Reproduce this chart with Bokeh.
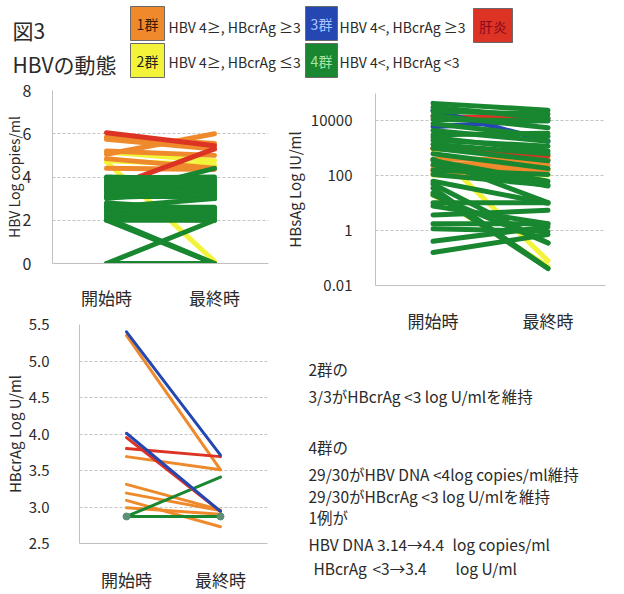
from bokeh.plotting import figure
from bokeh.layouts import column, row
from bokeh.models import Range1d, FactorRange, FixedTicker, CustomJSTickFormatter, NumeralTickFormatter
from bokeh.core.properties import value
from bokeh.embed import file_html
from bokeh.resources import INLINE

FONT = "Noto Sans CJK JP"
times = ["開始時", "最終時"]

# ---------------- data ----------------
# Chart 1: HBV DNA (log copies/ml), start -> end
hbv_g1_start = [5.85, 5.75, 5.05, 4.85, 4.4, 5.2]
hbv_g1_end = [5.55, 5.3, 6.0, 4.4, 4.35, 5.0]
hbv_g2_start = [5.15, 4.75, 4.7]
hbv_g2_end = [4.75, 4.55, 0.1]
hbv_g3_start = [3.5, 3.6]
hbv_g3_end = [3.3, 3.7]
hbv_hep_start = [6.05, 3.45]
hbv_hep_end = [5.45, 5.3]
hbv_g4_start = [4.0, 3.95, 3.9, 3.8, 3.7, 3.6, 3.5, 3.4, 3.3, 3.2, 3.14, 3.1, 3.0, 3.05, 2.8,
                2.7, 2.6, 2.5, 2.45, 2.4, 2.3, 2.2, 2.1, 2.05, 2.0, 2.0, 2.1, 0.0, 0.0, 2.6]
hbv_g4_end = [3.9, 4.0, 3.6, 3.8, 3.5, 3.3, 3.7, 3.2, 3.4, 3.0, 4.4, 3.1, 3.5, 3.2, 2.5,
              2.4, 2.6, 2.3, 2.2, 2.5, 2.1, 2.4, 2.0, 2.2, 0.0, 2.0, 0.0, 2.0, 0.0, 3.0]

# Chart 2: HBsAg (log10 IU/ml), start -> end
hbs_g1_start = [2.37, 2.25, 3.0, 2.6, 2.1, 2.2]
hbs_g1_end = [2.55, 2.25, 2.73, 2.6, 2.2, 2.4]
hbs_g2_start = [2.97, 1.3, 2.03]
hbs_g2_end = [-1.1, -1.3, 2.03]
hbs_g3_start = [4.39, 3.79]
hbs_g3_end = [3.26, 4.03]
hbs_hep_start = [4.14, 3.0]
hbs_hep_end = [4.1, 2.73]
hbs_g4_start = [4.64, 4.5, 4.35, 4.2, 4.05, 3.9, 3.65, 3.5, 3.3, 3.15, 3.0, 2.8, 2.55, 2.4, 2.2,
                2.05, 1.8, 1.55, 1.38, 1.02, 0.57, 0.25, 0.07, -0.39, -0.8, 1.3, 0.9, 2.6, 3.4, 1.7]
hbs_g4_end = [4.39, 4.1, 4.25, 3.75, 4.0, 3.43, 3.26, 3.55, 3.08, 2.8, 2.55, 2.27, 1.8, 1.63, 2.05,
              1.66, 1.0, -1.38, -1.38, 1.02, 0.74, 0.25, -0.03, 0.14, -0.14, -0.45, 0.25, 1.02, 2.9, -0.45]

# Chart 3: HBcrAg (log U/ml), start -> end
crag_g1_start = [5.35, 3.69, 3.31, 3.19, 3.09, 2.99]
crag_g1_end = [3.51, 3.51, 2.96, 2.95, 2.73, 2.9]
crag_g3_start = [5.4, 4.01]
crag_g3_end = [3.71, 2.94]
crag_hep_start = [3.95, 3.8]
crag_hep_end = [2.94, 3.69]
crag_g4_start = [2.87, 2.87, 2.87, 2.87, 2.87]
crag_g4_end = [3.41, 2.87, 2.87, 2.87, 2.87]

hbv_ticks = [0, 2, 4, 6, 8]
hbs_ticks = [0.01, 1, 100, 10000]
crag_ticks = [2.5, 3.0, 3.5, 4.0, 4.5, 5.0, 5.5]

legend_labels = ["1群", "2群", "3群", "4群", "肝炎"]
legend_texts = ["HBV 4≥, HBcrAg ≥3", "HBV 4≥, HBcrAg ≤3", "HBV 4<, HBcrAg ≥3", "HBV 4<, HBcrAg <3"]

# ---------------- styles ----------------
C1 = "#ee8a2c"
C2 = "#f3f33a"
C3 = "#2447b2"
C4 = "#198630"
CH = "#dd3324"
GRID = "#c4c4c4"
TXT = "#2a2a2a"


def base_chart(width, height, y_range, borders, y_label, y_type="linear", label_standoff=16,
               axis_standoff=2, x_standoff=14, tick_size="16px", label_size="14px"):
    l, r, t, b = borders
    p = figure(width=width, height=height, x_range=FactorRange(*times), y_range=y_range,
               y_axis_type=y_type, output_backend="svg", toolbar_location=None,
               min_border_left=l, min_border_right=r, min_border_top=t, min_border_bottom=b)
    p.outline_line_color = None
    p.xgrid.visible = False
    p.ygrid.grid_line_color = GRID
    p.ygrid.grid_line_dash = "3 2"
    p.yaxis.axis_label = y_label
    p.yaxis.axis_label_text_font = FONT
    p.yaxis.axis_label_text_font_size = label_size
    p.yaxis.axis_label_text_font_style = "normal"
    p.yaxis.axis_label_text_color = TXT
    p.yaxis.axis_label_standoff = axis_standoff
    for ax in (p.xaxis, p.yaxis):
        ax.major_tick_line_color = None
        ax.minor_tick_line_color = None
        ax.axis_line_color = "#c0c0c0"
        ax.major_label_text_font = FONT
        ax.major_label_text_color = TXT
    p.yaxis.major_label_text_font_size = tick_size
    p.yaxis.major_label_standoff = label_standoff
    p.xaxis.major_label_text_font_size = "17px"
    p.xaxis.major_label_standoff = x_standoff
    return p


def seg(p, start, end, color, width, conv=None):
    n = len(start)
    ys = start if conv is None else [conv(v) for v in start]
    ye = end if conv is None else [conv(v) for v in end]
    p.segment(x0=[times[0]] * n, y0=ys, x1=[times[1]] * n, y1=ye,
              line_color=color, line_width=width, line_cap="round")


# Chart 1
c1 = base_chart(280, 234, Range1d(0, 8), (52, 12, 12, 35), "HBV Log copies/ml",
                label_standoff=15, axis_standoff=-4, x_standoff=15, tick_size="16px", label_size="14px")
c1.yaxis.ticker = FixedTicker(ticks=hbv_ticks)
seg(c1, hbv_g2_start, hbv_g2_end, C2, 5)
seg(c1, hbv_g1_start, hbv_g1_end, C1, 5)
seg(c1, hbv_hep_start, hbv_hep_end, CH, 5)
seg(c1, hbv_g3_start, hbv_g3_end, C3, 5)
seg(c1, hbv_g4_start, hbv_g4_end, C4, 5)

# Chart 2
c2 = base_chart(344, 257, Range1d(0.01, 1e5), (82, 19, 15, 44), "HBsAg Log IU/ml", y_type="log",
                label_standoff=17, axis_standoff=3, x_standoff=16, tick_size="15px", label_size="15px")
c2.yaxis.ticker = FixedTicker(ticks=hbs_ticks)
c2.yaxis.formatter = CustomJSTickFormatter(code="return tick >= 1 ? tick.toFixed(0) : String(tick);")
conv = lambda v: 10 ** v
seg(c2, hbs_g2_start, hbs_g2_end, C2, 5, conv)
seg(c2, hbs_g1_start, hbs_g1_end, C1, 5, conv)
seg(c2, hbs_hep_start, hbs_hep_end, CH, 5, conv)
seg(c2, hbs_g3_start, hbs_g3_end, C3, 5, conv)
seg(c2, hbs_g4_start, hbs_g4_end, C4, 5, conv)

# Chart 3
c3 = base_chart(280, 282, Range1d(2.5, 5.5), (68, 13, 12, 38), "HBcrAg Log U/ml",
                label_standoff=24, axis_standoff=1, x_standoff=17, tick_size="15px", label_size="15px")
c3.yaxis.ticker = FixedTicker(ticks=crag_ticks)
c3.yaxis.formatter = NumeralTickFormatter(format="0.0")
seg(c3, crag_g1_start, crag_g1_end, C1, 3)
seg(c3, crag_g4_start, crag_g4_end, C4, 3)
seg(c3, crag_hep_start, crag_hep_end, CH, 3)
seg(c3, crag_g3_start, crag_g3_end, C3, 3)
c3.scatter(x=[times[0], times[1]], y=[crag_g4_start[1], crag_g4_end[1]], size=7, color="#5f8f76")

# Text panel
tf = figure(width=344, height=259, x_range=Range1d(280, 624), y_range=Range1d(594, 335),
            output_backend="svg", toolbar_location=None, min_border=0)
tf.axis.visible = False
tf.grid.visible = False
tf.outline_line_color = None
lines = ["2群の", "3/3がHBcrAg <3 log U/mlを維持", "4群の",
         "29/30がHBV DNA <4log copies/ml維持", "29/30がHBcrAg <3 log U/mlを維持", "1例が",
         "HBV DNA 3.14→4.4", "log copies/ml", "HBcrAg", "<3→3.4", "log U/ml"]
lx = [308, 308, 308, 308, 308, 308, 308, 452, 313, 372, 455]
ly = [368, 395, 446, 473, 495, 516, 543, 543, 567, 567, 567]
tf.text(x=lx, y=ly, text=lines, text_font=value(FONT), text_font_size="15.5px",
        text_color=TXT, text_baseline="middle", text_align="left")

# Header
hd = figure(width=624, height=78, x_range=Range1d(0, 624), y_range=Range1d(78, 0),
            output_backend="svg", toolbar_location=None, min_border=0)
hd.axis.visible = False
hd.grid.visible = False
hd.outline_line_color = None
hd.text(x=[12, 12], y=[29, 63], text=["図3", "HBVの動態"], text_font=value(FONT),
        text_font_size="21px", text_color=TXT, text_baseline="middle")
box_l = [130, 130, 305, 305, 473]
box_r = [164, 164, 337, 337, 512]
box_t = [6, 43, 6, 43, 8]
box_b = [40, 77, 40, 77, 42]
box_c = [C1, C2, C3, C4, CH]
hd.quad(left=box_l, right=box_r, top=box_t, bottom=box_b, fill_color=box_c,
        line_color="#6a6a6a", line_width=1)
hd.text(x=[(a + b) / 2 for a, b in zip(box_l, box_r)],
        y=[(a + b) / 2 for a, b in zip(box_t, box_b)],
        text=[legend_labels[0], legend_labels[1], legend_labels[2], legend_labels[3], legend_labels[4]],
        text_color=["#3a1c05", "#222222", "#a9c4ff", "#a6e3a6", "#8c0a1e"],
        text_font=value(FONT), text_font_size="14px", text_align="center", text_baseline="middle")
hd.text(x=[168, 168, 339, 339], y=[26, 61, 26, 61],
        text=[legend_texts[0], legend_texts[1], legend_texts[2], legend_texts[3]],
        text_font=value(FONT), text_font_size="14px", text_color=TXT, text_baseline="middle")

layout = column(hd, row(column(row(c1), row(c3)), column(row(c2), row(tf))))
open("out.html", "w").write(file_html(layout, INLINE))
